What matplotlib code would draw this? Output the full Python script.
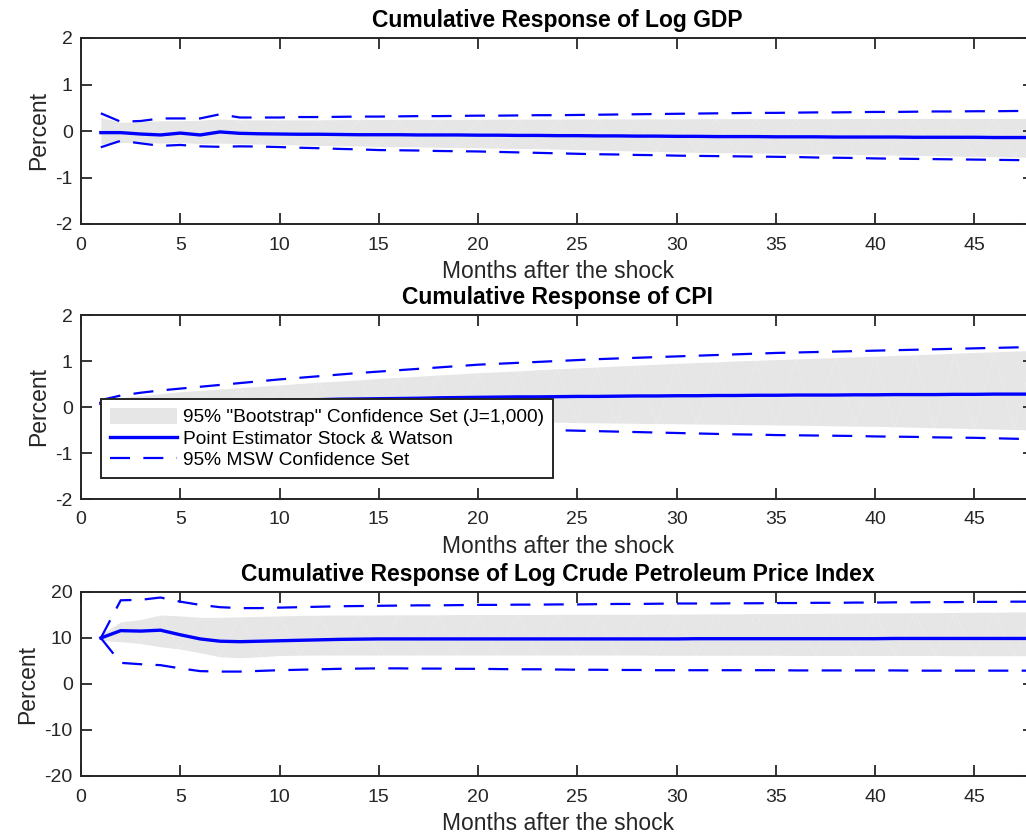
import matplotlib
matplotlib.use("Agg")
import matplotlib.pyplot as plt

plt.rcParams['font.family'] = ['Liberation Sans', 'DejaVu Sans']
plt.rcParams['axes.unicode_minus'] = False

# Horizons (months after the shock)
months = list(range(1, 49))

# --- Log GDP ---
gdp_point = [-0.035, -0.035, -0.065, -0.085, -0.045, -0.085, -0.02, -0.05, -0.06, -0.065,
             -0.07, -0.07, -0.075, -0.08, -0.08, -0.08, -0.085, -0.085, -0.085, -0.09,
             -0.09, -0.095, -0.095, -0.10, -0.10, -0.105, -0.105, -0.11, -0.11, -0.115,
             -0.115, -0.12, -0.12, -0.12, -0.125, -0.125, -0.125, -0.13, -0.13, -0.13,
             -0.13, -0.135, -0.135, -0.135, -0.135, -0.14, -0.14, -0.14]
gdp_boot_hi = [0.29, 0.19, 0.20, 0.22, 0.22, 0.23, 0.26, 0.24, 0.24, 0.24,
               0.24, 0.24, 0.245, 0.245, 0.245, 0.25, 0.25, 0.25, 0.25, 0.25,
               0.255, 0.255, 0.255, 0.255, 0.26, 0.26, 0.26, 0.26, 0.26, 0.26,
               0.265, 0.265, 0.265, 0.265, 0.265, 0.265, 0.265, 0.265, 0.27, 0.27,
               0.27, 0.27, 0.27, 0.27, 0.27, 0.27, 0.27, 0.27]
gdp_boot_lo = [-0.28, -0.25, -0.24, -0.26, -0.25, -0.27, -0.26, -0.27, -0.28, -0.29,
               -0.30, -0.31, -0.315, -0.32, -0.33, -0.335, -0.34, -0.35, -0.355, -0.36,
               -0.37, -0.375, -0.38, -0.39, -0.40, -0.41, -0.42, -0.43, -0.44, -0.45,
               -0.46, -0.465, -0.47, -0.475, -0.48, -0.49, -0.495, -0.50, -0.505, -0.51,
               -0.52, -0.525, -0.53, -0.54, -0.545, -0.55, -0.56, -0.57]
gdp_msw_hi = [0.38, 0.20, 0.215, 0.27, 0.27, 0.27, 0.36, 0.29, 0.29, 0.29,
              0.30, 0.30, 0.305, 0.31, 0.31, 0.315, 0.32, 0.32, 0.325, 0.33,
              0.33, 0.335, 0.34, 0.34, 0.345, 0.35, 0.355, 0.36, 0.365, 0.37,
              0.375, 0.38, 0.385, 0.39, 0.39, 0.395, 0.40, 0.40, 0.405, 0.41,
              0.41, 0.415, 0.42, 0.42, 0.425, 0.425, 0.43, 0.43]
gdp_msw_lo = [-0.35, -0.21, -0.265, -0.32, -0.30, -0.33, -0.34, -0.33, -0.335, -0.345,
              -0.36, -0.37, -0.385, -0.395, -0.41, -0.415, -0.42, -0.43, -0.435, -0.44,
              -0.45, -0.46, -0.47, -0.48, -0.49, -0.50, -0.505, -0.515, -0.52, -0.53,
              -0.535, -0.54, -0.545, -0.55, -0.555, -0.56, -0.57, -0.575, -0.58, -0.59,
              -0.595, -0.60, -0.605, -0.61, -0.615, -0.62, -0.625, -0.63]

# --- CPI ---
cpi_point = [0.08, 0.09, 0.10, 0.105, 0.115, 0.12, 0.13, 0.135, 0.14, 0.15,
             0.155, 0.16, 0.17, 0.175, 0.18, 0.185, 0.19, 0.20, 0.205, 0.21,
             0.215, 0.22, 0.22, 0.225, 0.23, 0.23, 0.235, 0.24, 0.24, 0.245,
             0.245, 0.25, 0.25, 0.255, 0.255, 0.26, 0.26, 0.26, 0.265, 0.265,
             0.27, 0.27, 0.27, 0.275, 0.275, 0.28, 0.28, 0.28]
cpi_boot_hi = [0.14, 0.20, 0.25, 0.29, 0.33, 0.36, 0.39, 0.42, 0.45, 0.48,
               0.51, 0.54, 0.565, 0.59, 0.62, 0.645, 0.67, 0.695, 0.72, 0.745,
               0.765, 0.785, 0.81, 0.83, 0.85, 0.87, 0.89, 0.91, 0.93, 0.95,
               0.965, 0.98, 1.00, 1.015, 1.03, 1.045, 1.06, 1.075, 1.09, 1.105,
               1.12, 1.135, 1.15, 1.17, 1.185, 1.20, 1.215, 1.23]
cpi_boot_lo = [0.12, 0.04, -0.01, -0.05, -0.08, -0.10, -0.12, -0.14, -0.16, -0.18,
               -0.19, -0.21, -0.22, -0.23, -0.245, -0.255, -0.265, -0.275, -0.285, -0.295,
               -0.305, -0.315, -0.325, -0.33, -0.34, -0.345, -0.35, -0.355, -0.36, -0.365,
               -0.37, -0.375, -0.38, -0.385, -0.39, -0.395, -0.40, -0.41, -0.415, -0.42,
               -0.43, -0.44, -0.45, -0.46, -0.47, -0.48, -0.49, -0.50]
cpi_msw_hi = [0.15, 0.25, 0.31, 0.36, 0.40, 0.44, 0.48, 0.52, 0.56, 0.60,
              0.635, 0.67, 0.705, 0.74, 0.77, 0.80, 0.83, 0.86, 0.89, 0.92,
              0.94, 0.96, 0.98, 1.00, 1.02, 1.04, 1.055, 1.07, 1.085, 1.10,
              1.115, 1.13, 1.145, 1.16, 1.175, 1.185, 1.195, 1.205, 1.215, 1.225,
              1.235, 1.245, 1.255, 1.265, 1.275, 1.285, 1.295, 1.305]
cpi_msw_lo = [0.13, -0.01, -0.08, -0.13, -0.17, -0.20, -0.23, -0.26, -0.285, -0.31,
              -0.33, -0.35, -0.37, -0.39, -0.40, -0.415, -0.43, -0.44, -0.455, -0.465,
              -0.475, -0.485, -0.495, -0.505, -0.515, -0.525, -0.535, -0.545, -0.555, -0.565,
              -0.575, -0.585, -0.595, -0.60, -0.61, -0.615, -0.62, -0.625, -0.63, -0.64,
              -0.645, -0.65, -0.66, -0.665, -0.67, -0.68, -0.69, -0.70]

# --- Log Crude Petroleum Price Index ---
oil_point = [10.0, 11.6, 11.5, 11.7, 10.7, 9.8, 9.3, 9.2, 9.3, 9.4,
             9.5, 9.6, 9.7, 9.75, 9.8, 9.8, 9.8, 9.8, 9.8, 9.8,
             9.8, 9.8, 9.8, 9.8, 9.8, 9.8, 9.8, 9.8, 9.8, 9.8,
             9.85, 9.85, 9.85, 9.85, 9.85, 9.85, 9.85, 9.85, 9.85, 9.85,
             9.9, 9.9, 9.9, 9.9, 9.9, 9.9, 9.9, 9.9]
oil_boot_hi = [10.8, 13.5, 14.0, 15.0, 14.8, 14.5, 14.5, 14.6, 14.7, 14.8,
               14.9, 14.95, 15.0, 15.0, 15.0, 15.05, 15.05, 15.05, 15.1, 15.1,
               15.1, 15.1, 15.1, 15.15, 15.15, 15.15, 15.15, 15.15, 15.2, 15.2,
               15.2, 15.25, 15.25, 15.3, 15.3, 15.35, 15.35, 15.4, 15.4, 15.45,
               15.45, 15.5, 15.5, 15.55, 15.6, 15.6, 15.65, 15.7]
oil_boot_lo = [9.5, 9.2, 8.8, 8.1, 7.6, 6.8, 5.9, 5.7, 5.9, 6.2,
               6.25, 6.3, 6.3, 6.3, 6.3, 6.3, 6.3, 6.3, 6.3, 6.3,
               6.3, 6.3, 6.3, 6.3, 6.3, 6.3, 6.3, 6.3, 6.25, 6.25,
               6.25, 6.25, 6.25, 6.25, 6.25, 6.2, 6.2, 6.2, 6.2, 6.2,
               6.2, 6.2, 6.2, 6.15, 6.15, 6.15, 6.15, 6.15]
oil_msw_hi = [10.0, 18.2, 18.3, 18.8, 17.9, 17.2, 16.7, 16.5, 16.5, 16.6,
              16.7, 16.8, 16.9, 16.95, 17.0, 17.05, 17.1, 17.1, 17.15, 17.2,
              17.2, 17.25, 17.25, 17.3, 17.3, 17.35, 17.4, 17.4, 17.45, 17.5,
              17.5, 17.5, 17.55, 17.55, 17.6, 17.6, 17.65, 17.65, 17.7, 17.7,
              17.75, 17.75, 17.8, 17.8, 17.85, 17.85, 17.9, 17.9]
oil_msw_lo = [10.0, 4.6, 4.3, 4.1, 3.4, 2.8, 2.7, 2.7, 2.85, 3.0,
              3.1, 3.2, 3.3, 3.35, 3.4, 3.4, 3.35, 3.35, 3.3, 3.3,
              3.25, 3.2, 3.2, 3.15, 3.1, 3.1, 3.05, 3.05, 3.0, 3.0,
              3.0, 3.0, 3.0, 3.0, 3.0, 2.95, 2.95, 2.95, 2.95, 2.95,
              2.95, 2.9, 2.9, 2.9, 2.9, 2.9, 2.9, 2.9]

titles = ["Cumulative Response of Log GDP",
          "Cumulative Response of CPI",
          "Cumulative Response of Log Crude Petroleum Price Index"]
y_ticks = [[-2, -1, 0, 1, 2], [-2, -1, 0, 1, 2], [-20, -10, 0, 10, 20]]
x_ticks = [0, 5, 10, 15, 20, 25, 30, 35, 40, 45]
x_label = "Months after the shock"
y_label = "Percent"
legend_labels = ['95% "Bootstrap" Confidence Set (J=1,000)',
                 'Point Estimator Stock & Watson',
                 '95% MSW Confidence Set']

BLUE = '#0000ff'
BAND = '#e6e6e6'
INK = '#262626'

W, H = 1026, 835
fig = plt.figure(figsize=(W / 100, H / 100), dpi=100)

# axes boxes in pixels: (left, top, right, bottom); the right edge runs past the canvas
boxes = [(81, 38, 1034, 224), (81, 315, 1034, 499), (81, 592, 1034, 776)]

series = [
    (gdp_point, gdp_boot_lo, gdp_boot_hi, gdp_msw_lo, gdp_msw_hi),
    (cpi_point, cpi_boot_lo, cpi_boot_hi, cpi_msw_lo, cpi_msw_hi),
    (oil_point, oil_boot_lo, oil_boot_hi, oil_msw_lo, oil_msw_hi),
]

for k, (box, (pt, blo, bhi, mlo, mhi)) in enumerate(zip(boxes, series)):
    l, t, r, b = box
    ax = fig.add_axes([l / W, 1 - b / H, (r - l) / W, (b - t) / H])

    band = ax.fill_between(months, blo, bhi, color=BAND, lw=0, zorder=1)
    # faint triangulation seams inside the shaded band
    seam = [blo[i] if i % 2 == 0 else bhi[i] for i in range(len(months))]
    ax.plot(months, seam, color='white', lw=0.4, alpha=0.3, zorder=1.5)

    msw, = ax.plot(months, mhi, color=BLUE, lw=1.6, dashes=(9, 6), zorder=2)
    ax.plot(months, mlo, color=BLUE, lw=1.6, dashes=(9, 6), zorder=2)
    line, = ax.plot(months, pt, color=BLUE, lw=2.4, zorder=3)

    ax.set_xlim(0, 48)
    ax.set_ylim(y_ticks[k][0], y_ticks[k][-1])
    ax.set_xticks(x_ticks)
    ax.set_yticks(y_ticks[k])

    for s in ax.spines.values():
        s.set_color(INK)
        s.set_linewidth(1.4)
    ax.tick_params(direction='in', length=8, width=1.3, colors=INK,
                   top=True, right=True, labelsize=14)
    ax.tick_params(axis='x', pad=9)
    ax.tick_params(axis='y', pad=6)

    ax.set_title(titles[k], fontsize=16.5, fontweight='bold', color='black', pad=8)
    ax.set_xlabel(x_label, fontsize=16.5, color=INK, labelpad=5)
    ax.set_ylabel(y_label, fontsize=16.5, color=INK, labelpad=4)

    if k == 1:
        leg = ax.legend([band, line, msw], legend_labels,
                        loc='lower left', bbox_to_anchor=(20 / 953, 21 / 184),
                        borderaxespad=0, fontsize=13.8, frameon=True, fancybox=False,
                        handlelength=3.5, handleheight=0.9, handletextpad=0.35,
                        labelspacing=0.15, borderpad=0.45)
        fr = leg.get_frame()
        fr.set_edgecolor(INK)
        fr.set_linewidth(1.4)
        fr.set_facecolor('white')
        fr.set_alpha(1)
        leg.set_zorder(5)

fig.savefig('out.png', dpi=100)
